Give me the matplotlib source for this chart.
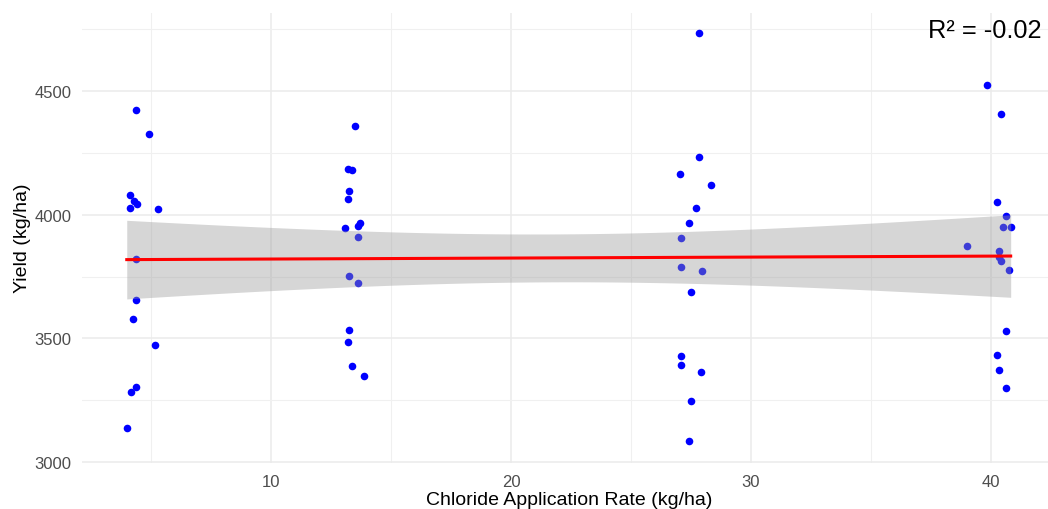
import numpy as np
import matplotlib.pyplot as plt

plt.rcParams['font.family'] = ['Liberation Sans', 'DejaVu Sans']

# Data ------------------------------------------------------ data

chloride = [3.99, 4.11, 4.11, 4.15, 4.26, 4.29, 4.39, 4.39, 4.39, 4.39, 4.40, 4.90, 5.18, 5.29,
            13.08, 13.21, 13.21, 13.21, 13.26, 13.26, 13.26, 13.37, 13.39, 13.49, 13.61, 13.61,
            13.61, 13.72, 13.87,
            27.03, 27.08, 27.08, 27.08, 27.08, 27.43, 27.43, 27.49, 27.49, 27.71, 27.82, 27.82,
            27.93, 27.97, 28.32,
            39.01, 39.85, 40.24, 40.24, 40.35, 40.35, 40.35, 40.40, 40.40, 40.51, 40.64, 40.64,
            40.64, 40.75, 40.82]

yield_kg = [3136, 4081, 4028, 3284, 3578, 4054, 4425, 3820, 3655, 3302, 4043, 4327, 3474, 4022,
            3945, 4185, 4065, 3486, 4097, 3753, 3535, 3388, 4180, 4359, 3955, 3911,
            3725, 3966, 3349,
            4163, 3906, 3787, 3427, 3393, 3966, 3084, 3689, 3245, 4026, 4735, 4235,
            3365, 3771, 4120,
            3875, 4523, 4053, 3431, 3853, 3830, 3372, 4408, 3813, 3950, 3995, 3531,
            3300, 3775, 3950]

x_ticks = [10, 20, 30, 40]
x_minor = [5, 15, 25, 35]
y_ticks = [3000, 3500, 4000, 4500]
y_minor = [3250, 3750, 4250, 4750]
r2_label = "R² = -0.02"

# Linear fit with 95% band (like geom_smooth(method = "lm")) ------------------ fit

x = np.array(chloride)
y = np.array(yield_kg, dtype=float)
slope, intercept = np.polyfit(x, y, 1)
xs = np.linspace(x.min(), x.max(), 80)
fit = intercept + slope * xs
resid = y - (intercept + slope * x)
n = len(x)
s = np.sqrt(np.sum(resid ** 2) / (n - 2))
se = s * np.sqrt(1.0 / n + (xs - x.mean()) ** 2 / np.sum((x - x.mean()) ** 2))
t975 = 2.002  # t quantile, df = n - 2

# Plot ------------------------------------------------------------------------ plot

W, H = 1048, 510
fig = plt.figure(figsize=(W / 100, H / 100), dpi=100)
ax = fig.add_axes([82 / W, 46.3 / H, 966 / W, 450.2 / H])

ax.scatter(x, y, s=30, color='#0000FF', linewidths=0, zorder=2)
ax.fill_between(xs, fit - t975 * se, fit + t975 * se, color='#999999', alpha=0.4,
                linewidth=0, zorder=3)
ax.plot(xs, fit, color='#FF0000', lw=2.2, zorder=4)

ax.set_xlim(2.125, 42.375)
ax.set_ylim(2997, 4818)
ax.set_xticks(x_ticks)
ax.set_xticks(x_minor, minor=True)
ax.set_yticks(y_ticks)
ax.set_yticks(y_minor, minor=True)

ax.grid(which='major', color='#EBEBEB', lw=1.1)
ax.grid(which='minor', color='#F0F0F0', lw=0.8)
ax.set_axisbelow(True)
for sp in ax.spines.values():
    sp.set_visible(False)

ax.tick_params(which='both', length=0, labelsize=12, labelcolor='#4D4D4D')
ax.tick_params(axis='y', pad=7.4)
ax.tick_params(axis='x', pad=8)

ax.set_xlabel('Chloride Application Rate (kg/ha)', fontsize=14, color='black')
ax.xaxis.label.set_va('baseline')
ax.xaxis.set_label_coords((569.3 - 82) / 966, (H - 505 - 46.3) / 450.2)

ax.set_ylabel('Yield (kg/ha)', fontsize=14, color='black')
ax.yaxis.label.set_va('center')
ax.yaxis.set_label_coords((23 - 82) / 966, 0.5)

ax.text((1041.7 - 82) / 966, (H - 38.3 - 46.3) / 450.2, r2_label, transform=ax.transAxes,
        ha='right', va='baseline', fontsize=18.3, color='black')

fig.savefig('out.png', dpi=100)
